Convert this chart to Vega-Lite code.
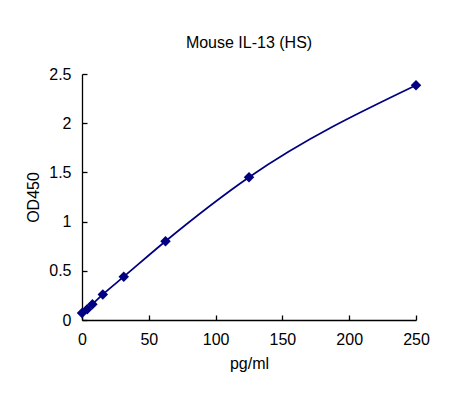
{
  "$schema": "https://vega.github.io/schema/vega-lite/v6.json",
  "width": 334,
  "height": 246,
  "autosize": {"type": "none"},
  "padding": {"left": 82, "top": 74, "right": 41, "bottom": 74},
  "background": "white",
  "config": {
    "view": {"stroke": null},
    "font": "Liberation Sans",
    "axis": {"grid": false, "domainColor": "black", "domainWidth": 1.3, "tickColor": "black", "tickWidth": 1.3, "labelColor": "black", "titleColor": "black", "labelFontSize": 16, "titleFontSize": 16, "titleFontWeight": "normal", "labelFont": "Liberation Sans", "titleFont": "Liberation Sans", "labelOverlap": false, "labelFlush": false}
  },
  "title": {"text": "Mouse IL-13 (HS)", "fontSize": 16, "fontWeight": "normal", "font": "Liberation Sans", "color": "black", "frame": "group", "baseline": "alphabetic", "offset": 2},
  "data": {"values": [
    {"conc": 0, "od": 0.07},
    {"conc": 3.9, "od": 0.11},
    {"conc": 7.8, "od": 0.16},
    {"conc": 15.6, "od": 0.26},
    {"conc": 31.25, "od": 0.44},
    {"conc": 62.5, "od": 0.80},
    {"conc": 125, "od": 1.45},
    {"conc": 250, "od": 2.385}
  ]},
  "encoding": {
    "x": {"field": "conc", "type": "quantitative", "scale": {"domain": [0, 250], "nice": false}, "axis": {"values": [0, 50, 100, 150, 200, 250], "format": "d", "title": "pg/ml", "tickSize": -5, "labelPadding": 16, "labelFlush": false, "titleY": 48, "titleBaseline": "alphabetic"}},
    "y": {"field": "od", "type": "quantitative", "scale": {"domain": [0, 2.5], "nice": false}, "axis": {"values": [0, 0.5, 1, 1.5, 2, 2.5], "format": "~g", "title": "OD450", "tickSize": -5, "labelPadding": 16, "labelFlush": false, "titleX": -44, "titleBaseline": "alphabetic"}}
  },
  "layer": [
    {"mark": {"type": "line", "color": "#000080", "strokeWidth": 1.75, "interpolate": "monotone"}},
    {"mark": {"type": "point", "shape": "diamond", "filled": true, "color": "#000080", "size": 110, "opacity": 1}}
  ]
}
